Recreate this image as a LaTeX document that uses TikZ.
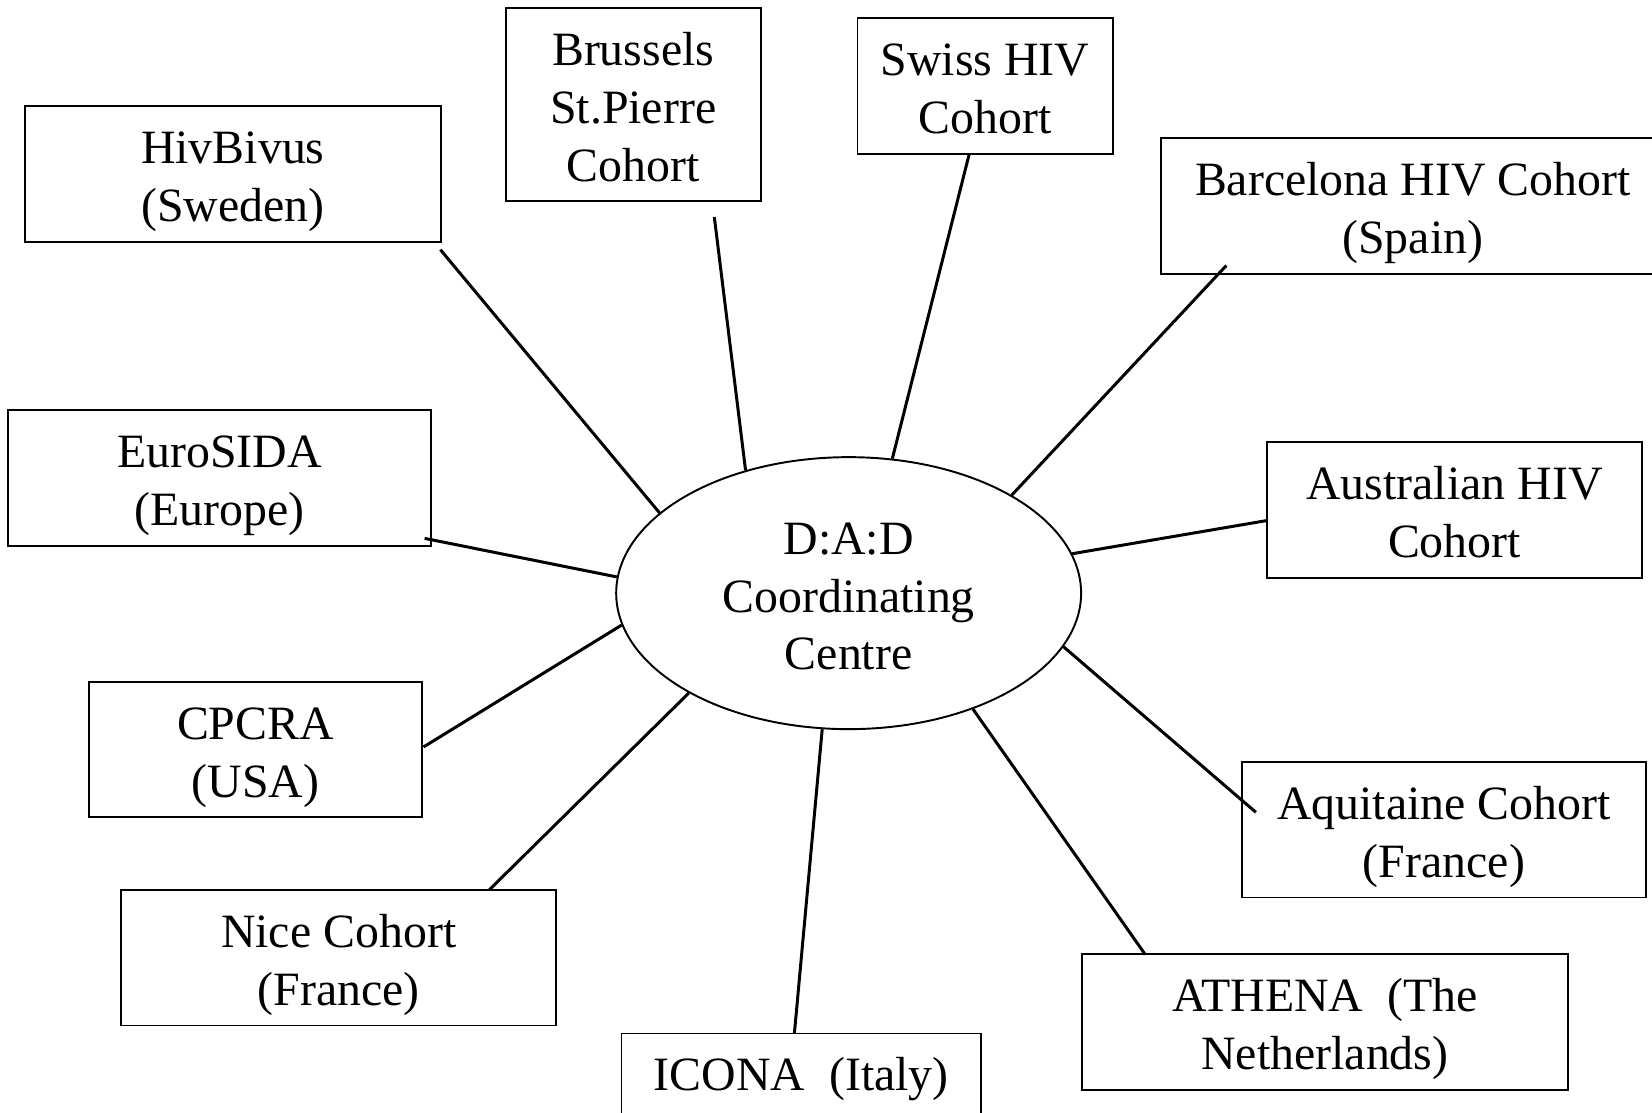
\documentclass[tikz,border=0pt]{standalone}
\usepackage{fontspec}
\setmainfont{Liberation Serif}
\usetikzlibrary{shapes.geometric}
\newcommand{\tp}{\rule{0pt}{13.8pt}}

\begin{document}
\begin{tikzpicture}[x=0.010536cm,y=-0.010536cm,
		lowstrut/.style={execute at end node={\rule[-3pt]{0pt}{3pt}}},
		cohort/.style={draw, line width=0.55pt, align=center, inner sep=0pt, minimum height=1.355cm, font=\fontsize{13.6}{16.5}\selectfont},
		link/.style={line width=0.85pt}]
		\useasboundingbox (0,0) rectangle (1568,1056);

		% --- centre ---
		\node[ellipse, draw, line width=0.55pt, inner sep=0pt, minimum width=4.646cm, minimum height=2.718cm, align=center, font=\fontsize{13.6}{16.3}\selectfont, lowstrut] (dad) at (805.5,563) {\tp D:A:D\\Coordinating\\Centre};

		% --- cohorts, top and left ---
		\node[cohort, lowstrut, minimum width=4.151cm] (hivbivus) at (221,165) {\tp HivBivus\\(Sweden)};
		\node[cohort, lowstrut, minimum width=2.550cm, minimum height=1.928cm] (brussels) at (601,99.5) {\tp Brussels\\St.Pierre\\Cohort};
		\node[cohort, lowstrut, minimum width=2.550cm] (swiss) at (935,81.5) {\tp Swiss HIV\\Cohort};
		\node[cohort, lowstrut, minimum width=5.036cm] (barcelona) at (1341,195.5) {\tp Barcelona HIV Cohort\\(Spain)};
		\node[cohort, lowstrut, minimum width=4.225cm] (eurosida) at (208.5,453.5) {\tp EuroSIDA\\(Europe)};
		\node[cohort, lowstrut, minimum width=3.319cm] (cpcra) at (242.5,711.5) {\tp CPCRA\\(USA)};
		\node[cohort, lowstrut, minimum width=4.351cm] (nice) at (321.5,909) {\tp Nice Cohort\\(France)};

		% --- cohorts, right and bottom ---
		\node[cohort, lowstrut, minimum width=3.740cm] (australian) at (1380.5,484) {\tp Australian HIV\\Cohort};
		\node[cohort, lowstrut, minimum width=4.035cm] (aquitaine) at (1370.5,787.5) {\tp Aquitaine Cohort\\(France)};
		\node[cohort, lowstrut, minimum width=4.857cm] (athena) at (1257.5,970) {\tp ATHENA\ \ (The\\Netherlands)};
		\node[cohort, minimum width=3.593cm, minimum height=0.906cm] (icona) at (760.5,1024) {ICONA\ \ (Italy)};

		% --- line ends at the boxes ---
		\coordinate (hivbivus-e) at (418,237);
		\coordinate (brussels-e) at (678,206);
		\coordinate (swiss-e) at (920,146);
		\coordinate (barcelona-e) at (1164,252);
		\coordinate (eurosida-e) at (403,511);
		\coordinate (australian-e) at (1203,494);
		\coordinate (cpcra-e) at (402,709);
		\coordinate (aquitaine-e) at (1192,771);
		\coordinate (nice-e) at (464,845);
		\coordinate (athena-e) at (1087,906);
		\coordinate (icona-e) at (754,981);

		% --- links ---
		\draw[link] (dad.157.6) -- (hivbivus-e);
		\draw[link] (dad.130.5) -- (brussels-e);
		\draw[link] (dad.72.7) -- (swiss-e);
		\draw[link] (dad.31) -- (barcelona-e);
		\draw[link] (dad.176.9) -- (eurosida-e);
		\draw[link] (dad.10.7) -- (australian-e);
		\draw[link] (dad.188.4) -- (cpcra-e);
		\draw[link] (dad.346.8) -- (aquitaine-e);
		\draw[link] (dad.212.2) -- (nice-e);
		\draw[link] (dad.317.8) -- (athena-e);
		\draw[link] (dad.259.2) -- (icona-e);
	\end{tikzpicture}
\end{document}
